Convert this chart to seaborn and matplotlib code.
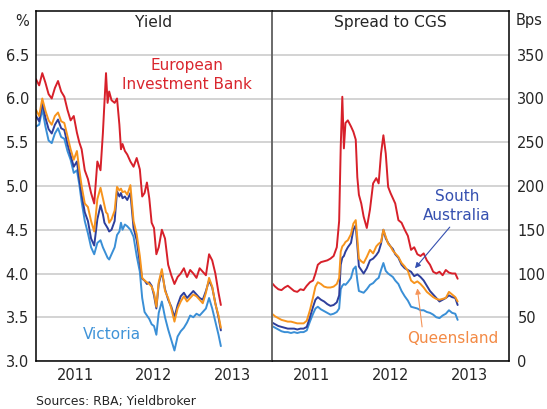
import numpy as np
import pandas as pd
import matplotlib
matplotlib.use('Agg')
import matplotlib.pyplot as plt
import seaborn as sns

# Observation dates (decimal years), shared by both panels
dates = [2011.00, 2011.04, 2011.08, 2011.12, 2011.16, 2011.20, 2011.24, 2011.28, 2011.32, 2011.36,
         2011.40, 2011.44, 2011.48, 2011.52, 2011.55, 2011.58, 2011.62, 2011.66, 2011.70, 2011.74,
         2011.78, 2011.82, 2011.85, 2011.87, 2011.89, 2011.91, 2011.93, 2011.96, 2012.00, 2012.03,
         2012.06, 2012.08, 2012.10, 2012.13, 2012.16, 2012.20, 2012.24, 2012.28, 2012.32, 2012.35,
         2012.38, 2012.41, 2012.44, 2012.47, 2012.50, 2012.53, 2012.56, 2012.60, 2012.64, 2012.68,
         2012.72, 2012.76, 2012.80, 2012.84, 2012.88, 2012.92, 2012.96, 2013.00, 2013.04, 2013.08,
         2013.12, 2013.16, 2013.20, 2013.24, 2013.28, 2013.32, 2013.35]

# Yields (%)
eib_yield = [6.22, 6.15, 6.29, 6.18, 6.05, 6.00, 6.12, 6.20, 6.08, 6.02,
             5.87, 5.75, 5.80, 5.61, 5.50, 5.42, 5.18, 5.08, 4.92, 4.80,
             5.28, 5.18, 5.60, 5.95, 6.29, 5.95, 6.08, 5.98, 5.95, 6.00,
             5.70, 5.42, 5.48, 5.40, 5.36, 5.28, 5.22, 5.32, 5.19, 4.88,
             4.92, 5.04, 4.86, 4.58, 4.52, 4.22, 4.30, 4.50, 4.40, 4.10,
             3.98, 3.88, 3.96, 4.00, 4.06, 3.96, 4.04, 4.00, 3.95, 4.06,
             4.02, 3.98, 4.22, 4.15, 4.00, 3.78, 3.64]
qld_yield = [5.87, 5.80, 6.00, 5.86, 5.75, 5.70, 5.80, 5.84, 5.74, 5.72,
             5.57, 5.42, 5.30, 5.40, 5.19, 5.00, 4.80, 4.76, 4.60, 4.48,
             4.85, 4.98, 4.86, 4.78, 4.70, 4.68, 4.58, 4.62, 4.72, 4.99,
             4.95, 4.97, 4.93, 4.94, 4.90, 5.01, 4.60, 4.45, 4.20, 3.95,
             3.92, 3.90, 3.88, 3.85, 3.78, 3.62, 3.90, 4.05, 3.80, 3.72,
             3.60, 3.45, 3.60, 3.68, 3.74, 3.68, 3.72, 3.76, 3.74, 3.70,
             3.66, 3.78, 3.95, 3.85, 3.65, 3.52, 3.38]
sa_yield = [5.80, 5.74, 5.95, 5.78, 5.65, 5.60, 5.70, 5.76, 5.66, 5.64,
            5.48, 5.35, 5.22, 5.28, 5.08, 4.90, 4.70, 4.60, 4.40, 4.32,
            4.62, 4.78, 4.68, 4.58, 4.55, 4.52, 4.48, 4.50, 4.60, 4.94,
            4.88, 4.92, 4.86, 4.88, 4.84, 4.92, 4.52, 4.38, 4.12, 3.94,
            3.92, 3.88, 3.90, 3.86, 3.75, 3.60, 3.88, 4.02, 3.82, 3.70,
            3.62, 3.50, 3.64, 3.74, 3.78, 3.72, 3.76, 3.80, 3.76, 3.72,
            3.70, 3.80, 3.92, 3.84, 3.66, 3.50, 3.35]
vic_yield = [5.68, 5.70, 5.88, 5.68, 5.52, 5.49, 5.60, 5.66, 5.56, 5.54,
             5.40, 5.30, 5.15, 5.18, 5.02, 4.82, 4.60, 4.46, 4.30, 4.22,
             4.35, 4.38, 4.30, 4.26, 4.22, 4.18, 4.16, 4.22, 4.30, 4.44,
             4.48, 4.58, 4.50, 4.56, 4.54, 4.50, 4.42, 4.20, 4.02, 3.72,
             3.56, 3.52, 3.48, 3.42, 3.40, 3.30, 3.55, 3.68, 3.50, 3.36,
             3.24, 3.12, 3.28, 3.34, 3.38, 3.44, 3.52, 3.50, 3.54, 3.52,
             3.56, 3.60, 3.72, 3.60, 3.45, 3.30, 3.17]

# Spreads to CGS (bps)
eib_spread = [89, 85, 82, 81, 84, 86, 83, 80, 79, 82,
              81, 86, 90, 92, 100, 110, 113, 114, 115, 117,
              120, 130, 160, 245, 302, 243, 272, 275, 268, 262,
              253, 210, 190, 180, 165, 152, 173, 203, 209, 203,
              237, 258, 237, 199, 192, 186, 180, 161, 158, 150,
              143, 127, 130, 122, 120, 123, 115, 110, 102, 100,
              102, 98, 104, 101, 100, 100, 94]
qld_spread = [54, 51, 49, 47, 46, 45, 45, 44, 43, 43,
              43, 46, 58, 73, 85, 90, 88, 85, 84, 84,
              85, 88, 95, 125, 131, 133, 136, 138, 145, 157,
              161, 140, 117, 114, 112, 119, 127, 123, 131, 134,
              136, 150, 142, 134, 131, 126, 123, 119, 112, 108,
              103, 92, 89, 91, 88, 84, 79, 76, 73, 71,
              70, 71, 72, 79, 76, 73, 68]
sa_spread = [44, 42, 40, 39, 38, 37, 37, 37, 36, 37,
             37, 39, 50, 62, 70, 73, 70, 68, 65, 63,
             64, 67, 75, 110, 118, 120, 125, 130, 135, 150,
             155, 132, 108, 104, 100, 106, 115, 117, 121, 125,
             134, 150, 140, 135, 131, 128, 122, 118, 110, 106,
             104, 102, 97, 99, 96, 92, 86, 80, 76, 72,
             68, 70, 72, 75, 73, 72, 64]
vic_spread = [40, 38, 36, 34, 33, 33, 32, 33, 32, 33,
              33, 35, 45, 54, 60, 62, 59, 57, 55, 53,
              54, 56, 60, 82, 86, 88, 87, 90, 95, 105,
              108, 92, 80, 79, 78, 82, 87, 89, 93, 95,
              104, 112, 103, 100, 98, 96, 92, 88, 80, 74,
              69, 62, 61, 60, 58, 58, 56, 55, 53, 50,
              49, 52, 54, 58, 55, 54, 47]

issuers = ['Victoria', 'South Australia', 'Queensland', 'European Investment Bank']
palette = {'European Investment Bank': '#d7202a', 'South Australia': '#2e3f9c',
           'Queensland': '#f7941d', 'Victoria': '#3a8fd6'}

yield_df = pd.DataFrame({'date': dates, 'European Investment Bank': eib_yield,
                         'Queensland': qld_yield, 'South Australia': sa_yield,
                         'Victoria': vic_yield}).melt(id_vars='date', var_name='issuer', value_name='value')
spread_df = pd.DataFrame({'date': dates, 'European Investment Bank': eib_spread,
                          'Queensland': qld_spread, 'South Australia': sa_spread,
                          'Victoria': vic_spread}).melt(id_vars='date', var_name='issuer', value_name='value')

sns.set_style('white')
plt.rcParams['font.family'] = ['DejaVu Sans']

fig = plt.figure(figsize=(5.47, 4.09), dpi=100)
W, H = 547, 409
ax1 = fig.add_axes([36 / W, 1 - 361 / H, 236 / W, 350 / H])
ax2 = fig.add_axes([272 / W, 1 - 361 / H, 237 / W, 350 / H])

sns.lineplot(data=yield_df, x='date', y='value', hue='issuer', hue_order=issuers,
             palette=palette, lw=1.4, legend=False, ax=ax1)
sns.lineplot(data=spread_df, x='date', y='value', hue='issuer', hue_order=issuers,
             palette=palette, lw=1.4, legend=False, ax=ax2)

grid_col = '#c8c8c8'
for ax in (ax1, ax2):
    ax.set_xlim(2011, 2014)
    ax.set_xlabel('')
    ax.set_ylabel('')
    ax.set_xticks([2012, 2013])
    ax.set_xticklabels(['', ''])
    ax.set_xticks([2011.5, 2012.5, 2013.5], minor=True)
    ax.set_xticklabels(['2011', '2012', '2013'], minor=True)
    ax.tick_params(axis='x', which='major', direction='in', length=5, width=1, color='#333333')
    ax.tick_params(axis='x', which='minor', length=0, pad=5, labelsize=10.5)
    ax.tick_params(axis='y', length=0, labelsize=10.5)
    ax.yaxis.grid(True, color=grid_col, lw=1.1)
    ax.set_axisbelow(True)
    for s in ax.spines.values():
        s.set_color('black')
        s.set_linewidth(1.1)

ax1.set_ylim(3, 7)
ax1.set_yticks(np.arange(3.0, 6.51, 0.5))
ax1.set_yticklabels([f'{v:.1f}' for v in np.arange(3.0, 6.51, 0.5)])
ax1.tick_params(axis='y', pad=5)
ax1.spines['right'].set_visible(False)

ax2.set_ylim(0, 400)
ax2.set_yticks(np.arange(0, 351, 50))
ax2.yaxis.tick_right()
ax2.tick_params(axis='y', pad=6, length=0)
ax2.spines['left'].set_color('#6a6a6a')
ax2.spines['left'].set_linewidth(1.4)

ax1.text(0.5, 0.966, 'Yield', transform=ax1.transAxes, ha='center', va='center', fontsize=11.2)
ax2.text(0.5, 0.966, 'Spread to CGS', transform=ax2.transAxes, ha='center', va='center', fontsize=11.2)
fig.text(22 / W, 1 - 21 / H, '%', ha='center', va='center', fontsize=10.5)
fig.text(516 / W, 1 - 21 / H, 'Bps', ha='left', va='center', fontsize=10.5)
fig.text(36 / W, 1 - 402 / H, 'Sources: RBA; Yieldbroker', ha='left', va='center', fontsize=8.9)

ax1.text(2012.92, 6.27, 'European\nInvestment Bank', color='#d9262e', ha='center', va='center',
         fontsize=11, linespacing=1.3)
ax1.text(2011.97, 3.30, 'Victoria', color='#3f93d8', ha='center', va='center', fontsize=11)

ax2.text(2013.34, 177, 'South\nAustralia', color='#3550b0', ha='center', va='center',
         fontsize=11, linespacing=1.3)
ax2.annotate('', xy=(2012.81, 106), xytext=(2013.25, 153),
             arrowprops=dict(arrowstyle='-|>', color='#3550b0', lw=0.8, mutation_scale=8,
                             shrinkA=0, shrinkB=0))
ax2.text(2013.29, 26, 'Queensland', color='#f38a45', ha='center', va='center', fontsize=11)
ax2.annotate('', xy=(2012.84, 83), xytext=(2012.90, 39),
             arrowprops=dict(arrowstyle='-|>', color='#f5955a', lw=0.8, mutation_scale=8,
                             shrinkA=0, shrinkB=0))

fig.savefig('out.png', dpi=100)
